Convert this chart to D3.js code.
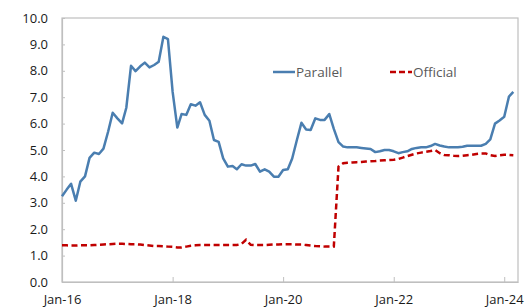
<!DOCTYPE html>
<html>
<head>
<meta charset="utf-8">
<script src="https://cdn.jsdelivr.net/npm/d3@7"></script>
<style>
  body { margin: 0; background: #fff; }
  svg text { font-family: "Open Sans", "Noto Sans", sans-serif; }
</style>
</head>
<body>
<main></main>
<script>
// monthly, Jan-16 .. Mar-24
const startMonth = "2016-01";
const parallel = [
  3.25, 3.5, 3.72, 3.08, 3.8, 4.0, 4.7, 4.9, 4.85, 5.05, 5.7, 6.41,
  6.2, 6.01, 6.6, 8.19, 7.99, 8.17, 8.31, 8.13, 8.22, 8.34, 9.29, 9.2,
  7.2, 5.85, 6.36, 6.33, 6.73, 6.68, 6.81, 6.33, 6.11, 5.38, 5.31, 4.68,
  4.37, 4.39, 4.27, 4.46, 4.41, 4.41, 4.47, 4.18, 4.27, 4.18, 3.99, 3.99,
  4.24, 4.27, 4.68, 5.38, 6.03, 5.78, 5.76, 6.2, 6.14, 6.14, 6.36, 5.8,
  5.3, 5.13, 5.1, 5.1, 5.1, 5.08, 5.06, 5.04, 4.92, 4.95, 5.0, 5.0,
  4.95, 4.88, 4.92, 4.95, 5.04, 5.08, 5.1, 5.1, 5.15, 5.23, 5.17, 5.13,
  5.1, 5.1, 5.1, 5.12, 5.16, 5.16, 5.16, 5.16, 5.23, 5.4, 6.0, 6.12,
  6.26, 7.02, 7.2
];
const official = [
  1.39, 1.39, 1.38, 1.38, 1.39, 1.39, 1.39, 1.4, 1.41, 1.42, 1.43, 1.44,
  1.45, 1.45, 1.44, 1.43, 1.43, 1.42, 1.4, 1.38, 1.36, 1.36, 1.35, 1.34,
  1.33, 1.31, 1.31, 1.34, 1.37, 1.39, 1.4, 1.4, 1.4, 1.4, 1.4, 1.4,
  1.4, 1.4, 1.4, 1.44, 1.6, 1.41, 1.4, 1.4, 1.4, 1.41, 1.42, 1.42,
  1.43, 1.43, 1.43, 1.42, 1.42, 1.4, 1.38, 1.36, 1.35, 1.34, 1.34, 1.34,
  4.37, 4.5, 4.52, 4.53, 4.54, 4.55, 4.56, 4.57, 4.58, 4.6, 4.61, 4.62,
  4.63, 4.66, 4.71, 4.77, 4.82, 4.87, 4.9, 4.93, 4.96, 5.0, 4.88, 4.81,
  4.8, 4.78, 4.77, 4.78, 4.8, 4.82, 4.85, 4.87, 4.87, 4.8, 4.77, 4.8,
  4.82, 4.81, 4.8
];
const yTicks = [0, 1, 2, 3, 4, 5, 6, 7, 8, 9, 10];
const xTickLabels = ["Jan-16", "Jan-18", "Jan-20", "Jan-22", "Jan-24"];
const seriesNames = ["Parallel", "Official"];

const w = 527, h = 308;
const margin = {top: 18, right: 9, bottom: 26, left: 62};

const parseMonth = d3.timeParse("%Y-%m");
const parseTick = d3.timeParse("%b-%y");
const start = parseMonth(startMonth);
const dates = parallel.map((d, i) => d3.timeMonth.offset(start, i));

const x = d3.scaleTime()
  .domain([start, d3.timeMonth.offset(start, 99)])
  .range([margin.left, w - margin.right]);
const y = d3.scaleLinear()
  .domain([0, 10])
  .range([h - margin.bottom, margin.top]);

const svg = d3.select("main").append("svg")
  .attr("width", w)
  .attr("height", h);

// frame
svg.append("rect")
  .attr("x", margin.left)
  .attr("y", margin.top)
  .attr("width", w - margin.right - margin.left)
  .attr("height", h - margin.bottom - margin.top)
  .attr("fill", "none")
  .attr("stroke", "#bfbfbf")
  .attr("stroke-width", 1.2);

// y axis
const yAxis = d3.axisLeft(y)
  .tickValues(yTicks)
  .tickFormat(d3.format(".1f"))
  .tickSizeInner(-3)
  .tickSizeOuter(0)
  .tickPadding(14);
const gy = svg.append("g")
  .attr("transform", "translate(" + margin.left + ",0)")
  .call(yAxis);
gy.select(".domain").attr("stroke", "#bfbfbf").attr("stroke-width", 1.2);
gy.selectAll(".tick line").attr("stroke", "#bfbfbf");
gy.selectAll(".tick text")
  .attr("fill", "#1a1a1a")
  .style("font-size", "13px");

// x axis
const xAxis = d3.axisBottom(x)
  .tickValues(xTickLabels.map(parseTick))
  .tickFormat(d3.timeFormat("%b-%y"))
  .tickSizeInner(-5)
  .tickSizeOuter(0)
  .tickPadding(13);
const gx = svg.append("g")
  .attr("transform", "translate(0," + (h - margin.bottom) + ")")
  .call(xAxis);
gx.select(".domain").attr("stroke", "#bfbfbf").attr("stroke-width", 1.2);
gx.selectAll(".tick line").attr("stroke", "#bfbfbf");
gx.selectAll(".tick text")
  .attr("fill", "#1a1a1a")
  .style("font-size", "13px");

const line = d3.line()
  .x((d, i) => x(dates[i]))
  .y(d => y(d));

svg.append("path")
  .datum(parallel)
  .attr("fill", "none")
  .attr("stroke", "#4a7eb0")
  .attr("stroke-width", 2.5)
  .attr("stroke-linejoin", "round")
  .attr("d", line);

svg.append("path")
  .datum(official)
  .attr("fill", "none")
  .attr("stroke", "#c00000")
  .attr("stroke-width", 2.5)
  .attr("stroke-dasharray", "6,3.5")
  .attr("d", line);

// legend
const legend = svg.append("g");
const legendX = [273, 390];
const legendY = 72;
seriesNames.forEach((name, i) => {
  legend.append("line")
    .attr("x1", legendX[i])
    .attr("x2", legendX[i] + 22)
    .attr("y1", legendY)
    .attr("y2", legendY)
    .attr("stroke", i === 0 ? "#4a7eb0" : "#c00000")
    .attr("stroke-width", 2.5)
    .attr("stroke-dasharray", i === 0 ? null : "6,3");
  legend.append("text")
    .attr("x", legendX[i] + 23)
    .attr("y", legendY)
    .attr("dy", "0.35em")
    .attr("fill", "#595959")
    .style("font-size", "13.5px")
    .text(name);
});
</script>
</body>
</html>
